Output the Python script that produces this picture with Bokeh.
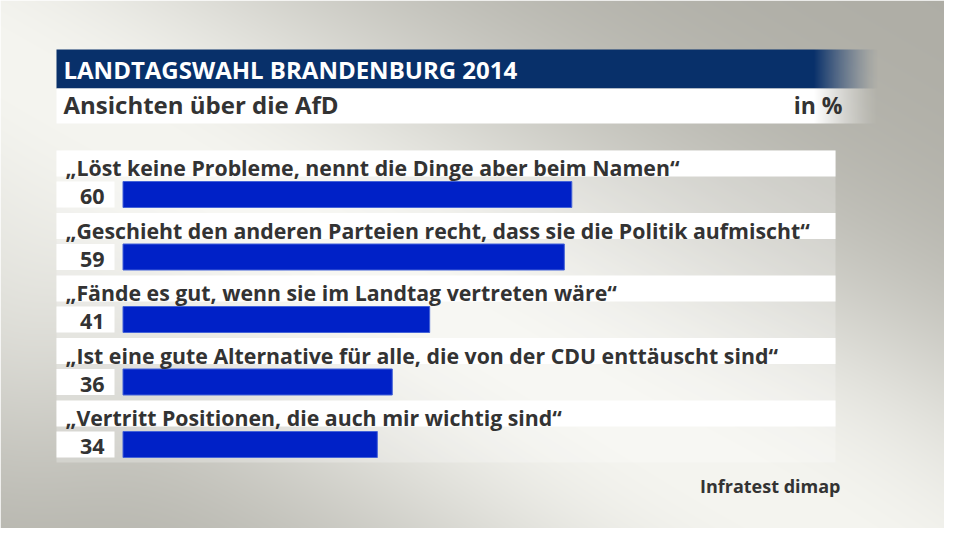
import numpy as np
from bokeh.plotting import figure
from bokeh.models import Range1d
from bokeh.core.properties import value
from bokeh.embed import file_html
from bokeh.resources import INLINE

# ---------------- data ----------------
title = "LANDTAGSWAHL BRANDENBURG 2014"
subtitle = "Ansichten über die AfD"
unit = "in %"
source_label = "Infratest dimap"
statements = [
    "„Löst keine Probleme, nennt die Dinge aber beim Namen“",
    "„Geschieht den anderen Parteien recht, dass sie die Politik aufmischt“",
    "„Fände es gut, wenn sie im Landtag vertreten wäre“",
    "„Ist eine gute Alternative für alle, die von der CDU enttäuscht sind“",
    "„Vertritt Positionen, die auch mir wichtig sind“",
]
values = [60, 59, 41, 36, 34]

# ---------------- layout ----------------
W, H = 944, 528
PX0 = 122.5      # x of value 0
SCALE = 7.48     # px per percent
ROW0 = 194.0     # y (from top) of first bar centre
ROW_STEP = 62.5
FONT = "Open Sans"
DARK = "#333333"

def Y(py):
    return H - py

p = figure(width=W, height=H, output_backend="svg", toolbar_location=None,
           x_range=Range1d((0 - PX0) / SCALE, (W - PX0) / SCALE),
           y_range=Range1d(0, H),
           x_axis_location=None, y_axis_location=None,
           min_border=0, border_fill_color=None, background_fill_color=None)
p.extra_x_ranges = {"px": Range1d(0, W)}
p.grid.visible = False
p.outline_line_color = None

# ---------------- background gradient ----------------
xs = np.arange(W) + 0.5
ys = np.arange(H)[::-1] + 0.5        # row 0 is the bottom (y measured from top)
XX, YY = np.meshgrid(xs, ys)
dx, dy = 800.0, 460.0
nl = np.hypot(dx, dy)
d = ((XX - 0) * (-dy) + (YY - 60) * dx) / nl
light = np.exp(-0.5 * (d / 175.0) ** 2)
for cx, cy, sx, sy, s in [(760, 480, 160, 90, 0.35), (0, 280, 90, 150, 0.45)]:
    spot = s * np.exp(-0.5 * (((XX - cx) / sx) ** 2 + ((YY - cy) / sy) ** 2))
    light = light + spot * (1 - light)
light = np.clip(light, 0, 1)
gray = np.array([174, 173, 165], float)
white = np.array([245, 245, 240], float)
rgb = gray[None, None, :] + (white - gray)[None, None, :] * light[..., None]
rgba = np.zeros((H, W, 4), dtype=np.uint8)
rgba[..., :3] = np.clip(rgb, 0, 255).astype(np.uint8)
rgba[..., 3] = 255
p.image_rgba(image=[rgba.view(np.uint32).reshape(H, W)], x=0, y=0, dw=W, dh=H,
             x_range_name="px")

# ---------------- header bars (solid part + fade in one image) ----------------
HDR_X0, FADE_START, HDR_X1 = 56, 813, 879

def header_img(rgb_col, height):
    width = HDR_X1 - HDR_X0
    a = np.zeros((height, width, 4), dtype=np.uint8)
    a[..., 0], a[..., 1], a[..., 2] = rgb_col
    ramp = np.ones(width)
    k = FADE_START - HDR_X0
    ramp[k:] = np.linspace(1, 0, width - k) ** 1.3
    a[..., 3] = (ramp[None, :] * 255).astype(np.uint8)
    return a.view(np.uint32).reshape(height, width)

p.image_rgba(image=[header_img((8, 48, 106), 39)], x=HDR_X0, y=Y(88),
             dw=HDR_X1 - HDR_X0, dh=39, x_range_name="px")
p.image_rgba(image=[header_img((255, 255, 255), 35)], x=HDR_X0, y=Y(123),
             dw=HDR_X1 - HDR_X0, dh=35, x_range_name="px")

p.text(x=[63], y=[Y(68.5)], text=[title], text_color="white",
       text_font=value(FONT), text_font_style="bold", text_font_size=value("24px"),
       text_baseline="middle", x_range_name="px")
p.text(x=[63], y=[Y(104)], text=[subtitle], text_color=DARK,
       text_font=value(FONT), text_font_style="bold", text_font_size=value("24px"),
       text_baseline="middle", x_range_name="px")
p.text(x=[842], y=[Y(104)], text=[unit], text_color=DARK,
       text_font=value(FONT), text_font_style="bold", text_font_size=value("23px"),
       text_baseline="middle", text_align="right", x_range_name="px")

# ---------------- table area ----------------
n = len(values)
centres = [ROW0 + i * ROW_STEP for i in range(n)]
p.quad(left=56, right=835, bottom=Y(centres[-1] + 18), top=Y(centres[0] - 44),
       fill_color="white", fill_alpha=0.25, line_color=None, x_range_name="px")
p.quad(left=[56] * n, right=[835] * n,
       bottom=[Y(c - 18) for c in centres], top=[Y(c - 44) for c in centres],
       fill_color="white", line_color=None, x_range_name="px")
p.quad(left=[56] * n, right=[114] * n,
       bottom=[Y(c + 13) for c in centres], top=[Y(c - 13) for c in centres],
       fill_color="white", line_color=None, x_range_name="px")

p.hbar(y=[Y(c) for c in centres], left=0, right=values, height=26,
       fill_color="#0021c7", line_color="#4463d8", line_width=1)

p.text(x=[65] * n, y=[Y(c - 27) for c in centres], text=statements, text_color=DARK,
       text_font=value(FONT), text_font_style="bold", text_font_size=value("21.3px"),
       text_baseline="middle", x_range_name="px")
p.text(x=[104] * n, y=[Y(c + 2) for c in centres], text=[str(v) for v in values],
       text_color=DARK, text_font=value(FONT), text_font_style="bold",
       text_font_size=value("21.5px"), text_baseline="middle", text_align="right",
       x_range_name="px")

p.text(x=[840], y=[Y(485.5)], text=[source_label], text_color=DARK,
       text_font=value(FONT), text_font_style="bold", text_font_size=value("18px"),
       text_baseline="middle", text_align="right", x_range_name="px")

open("out.html", "w").write(file_html(p, INLINE))
